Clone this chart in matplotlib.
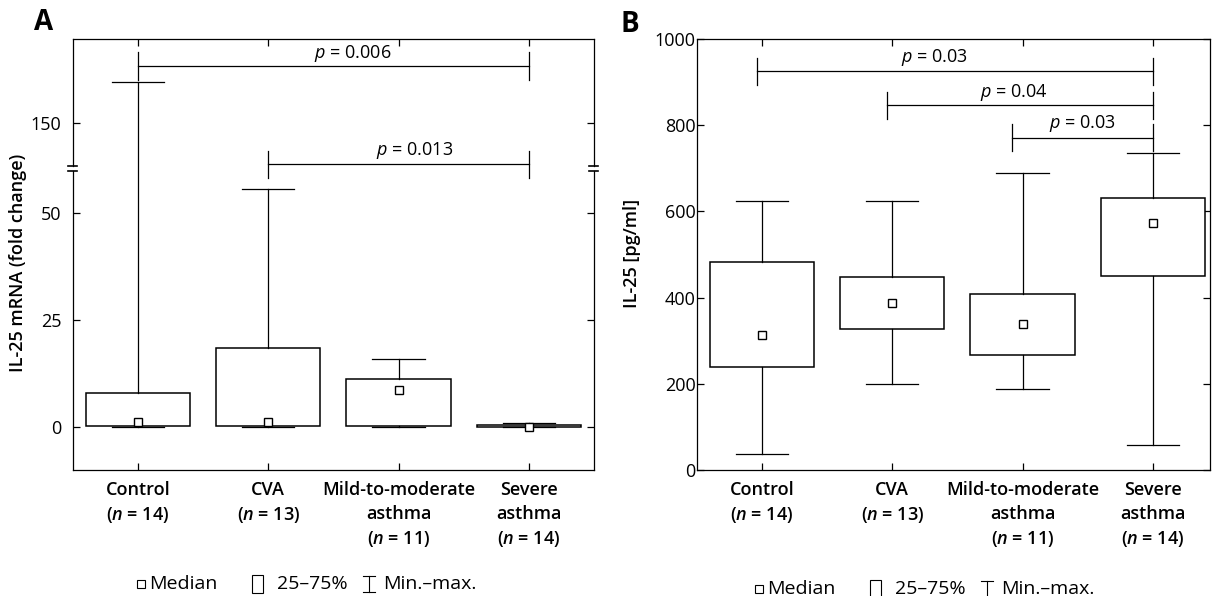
import numpy as np
import matplotlib
matplotlib.use('Agg')
import matplotlib.pyplot as plt
from matplotlib.patches import Rectangle
from matplotlib.lines import Line2D

FONT = 'Open Sans'
plt.rcParams['font.family'] = [FONT, 'DejaVu Sans']
plt.rcParams['mathtext.fontset'] = 'custom'
plt.rcParams['mathtext.rm'] = FONT
plt.rcParams['mathtext.it'] = FONT + ':italic'
plt.rcParams['mathtext.bf'] = FONT + ':semibold'
plt.rcParams['mathtext.bfit'] = FONT + ':italic:semibold'

# ---- data ----
positions = [1, 2, 3, 4]
xlabels = ['Control\n($\\mathbfit{n}$ = 14)',
           'CVA\n($\\mathbfit{n}$ = 13)',
           'Mild-to-moderate\nasthma\n($\\mathbfit{n}$ = 11)',
           'Severe\nasthma\n($\\mathbfit{n}$ = 14)']

# panel A: IL-25 mRNA (fold change)
a_min = [0, 0, 0, 0]
a_q1 = [0.2, 0.2, 0.2, 0.1]
a_med = [1.2, 1.2, 8.7, 0.0]
a_q3 = [8.0, 18.5, 11.3, 0.6]
a_max = [159.5, 55.7, 15.9, 0.9]
a_yticks = [0, 25, 50, 150]
# (x1, x2, y, end low, end high, text, text x, text y)
a_brackets = [(1, 4, 163.4, 160.1, 166.5, '$p$ = 0.006', 2.65, 166.3),
              (2, 4, 140.3, 58.3, 143.4, '$p$ = 0.013', 3.12, 143.6)]

# panel B: IL-25 [pg/ml]
b_min = [37, 200, 187, 58]
b_q1 = [239, 327, 267, 451]
b_med = [314, 387, 339, 573]
b_q3 = [482, 447, 408, 632]
b_max = [623, 623, 690, 735]
b_yticks = [0, 200, 400, 600, 800, 1000]
b_brackets = [(0.96, 4, 925, 894, 956, '$p$ = 0.03', 2.32, 956),
              (1.96, 4, 846, 815, 877, '$p$ = 0.04', 2.93, 877),
              (2.92, 4, 771, 740, 802, '$p$ = 0.03', 3.46, 805)]

W, H = 1217, 596
LW = 0.9
FS = 13

# broken y scale for panel A: -10..60 and 140..170
LO_TOP, HI_BOT, GAP = 60.0, 140.0, 1.2
SHIFT = HI_BOT - LO_TOP - GAP


def fwd(y):
    y = np.asarray(y, float)
    return np.where(y <= LO_TOP, y,
                    np.where(y >= HI_BOT, y - SHIFT,
                             LO_TOP + (y - LO_TOP) * GAP / (HI_BOT - LO_TOP)))


def inv(u):
    u = np.asarray(u, float)
    return np.where(u <= LO_TOP, u,
                    np.where(u >= LO_TOP + GAP, u + SHIFT,
                             LO_TOP + (u - LO_TOP) * (HI_BOT - LO_TOP) / GAP))


def draw_boxes(ax, mins, q1s, meds, q3s, maxs):
    stats = []
    for lo, q1, m, q3, hi in zip(mins, q1s, meds, q3s, maxs):
        stats.append(dict(whislo=lo, q1=q1, med=m, q3=q3, whishi=hi, mean=m, fliers=[]))
    ax.bxp(stats, positions=positions, widths=0.8, capwidths=0.4,
           showmeans=True, patch_artist=True, showfliers=False,
           boxprops=dict(facecolor='white', edgecolor='black', linewidth=LW + 0.2),
           whiskerprops=dict(color='black', linewidth=LW),
           capprops=dict(color='black', linewidth=LW),
           medianprops=dict(linestyle='none'),
           meanprops=dict(marker='s', markerfacecolor='white', markeredgecolor='black',
                          markersize=6, markeredgewidth=1.0))


def draw_brackets(ax, brackets):
    for x1, x2, y, lo, hi, txt, tx, ty in brackets:
        ax.plot([x1, x2], [y, y], color='black', lw=LW, clip_on=False)
        ax.plot([x1, x1], [lo, hi], color='black', lw=LW, clip_on=False)
        ax.plot([x2, x2], [lo, hi], color='black', lw=LW, clip_on=False)
        ax.text(tx, ty, txt, ha='center', va='center', fontsize=FS)


def style_axis(ax, yticks, pad):
    ax.set_xticks(positions)
    ax.set_xticklabels(xlabels, fontweight='semibold', fontsize=FS, linespacing=1.42)
    ax.set_yticks(yticks)
    ax.tick_params(axis='both', direction='in', top=True, right=True,
                   length=5, width=LW, labelsize=FS)
    ax.tick_params(axis='x', pad=8)
    ax.tick_params(axis='y', pad=pad)
    for s in ax.spines.values():
        s.set_linewidth(LW)


def draw_legend(fig, x0, yc):
    # x0, yc in pixels from top-left
    def fx(px):
        return px / W

    def fy(py):
        return 1 - py / H
    lfs = 14
    fig.add_artist(Rectangle((fx(x0), fy(yc + 4)), 8 / W, 8 / H, transform=fig.transFigure,
                             fill=False, ec='black', lw=0.8))
    fig.text(fx(x0 + 12), fy(yc), 'Median', fontsize=lfs, va='center', ha='left')
    fig.add_artist(Rectangle((fx(x0 + 115), fy(yc + 9)), 11 / W, 18 / H, transform=fig.transFigure,
                             fill=False, ec='black', lw=0.8))
    fig.text(fx(x0 + 140), fy(yc), '25–75%', fontsize=lfs, va='center', ha='left')
    bx, bt, bb = x0 + 226, yc - 8, yc + 8
    fig.add_artist(Line2D([fx(bx), fx(bx + 12)], [fy(bt), fy(bt)], transform=fig.transFigure, color='black', lw=0.8))
    fig.add_artist(Line2D([fx(bx + 6), fx(bx + 6)], [fy(bt), fy(bb)], transform=fig.transFigure, color='black', lw=0.8))
    fig.add_artist(Line2D([fx(bx), fx(bx + 12)], [fy(bb), fy(bb)], transform=fig.transFigure, color='black', lw=0.8))
    fig.text(fx(x0 + 246), fy(yc), 'Min.–max.', fontsize=lfs, va='center', ha='left')


fig = plt.figure(figsize=(W / 100, H / 100), dpi=100)

# ---------- panel A ----------
axA = fig.add_axes([72.7 / W, 1 - 470 / H, 521.3 / W, 431 / H])
axA.set_yscale('function', functions=(fwd, inv))
draw_boxes(axA, a_min, a_q1, a_med, a_q3, a_max)
draw_brackets(axA, a_brackets)
axA.set_xlim(0.5, 4.5)
axA.set_ylim(-10, 169.6)
style_axis(axA, a_yticks, 8)
axA.spines['left'].set_visible(False)
axA.spines['right'].set_visible(False)
tr = axA.get_yaxis_transform()
ymin, ymax = axA.get_ylim()
hw = 4.5 / 521.3
for xs in (0, 1):
    axA.plot([xs, xs], [ymin, LO_TOP], transform=tr, color='black', lw=LW, clip_on=False)
    axA.plot([xs, xs], [HI_BOT, ymax], transform=tr, color='black', lw=LW, clip_on=False)
    for yb in (LO_TOP, HI_BOT):
        axA.plot([xs - hw, xs + hw], [yb, yb], transform=tr, color='black', lw=LW + 0.3, clip_on=False)
axA.set_ylabel('IL-25 mRNA (fold change)', fontweight='semibold', fontsize=FS)
axA.yaxis.set_label_coords(-0.088, 0.48)

# ---------- panel B ----------
axB = fig.add_axes([697 / W, 1 - 470 / H, 513 / W, 431 / H])
draw_boxes(axB, b_min, b_q1, b_med, b_q3, b_max)
draw_brackets(axB, b_brackets)
axB.set_xlim(0.5, 4.44)
axB.set_ylim(0, 1000)
style_axis(axB, b_yticks, 1)
axB.set_ylabel('IL-25 [pg/ml]', fontweight='semibold', fontsize=FS)
axB.yaxis.set_label_coords(-0.109, 0.503)

fig.text(44 / W, 1 - 23 / H, 'A', fontsize=20, fontweight='bold', ha='center', va='center')
fig.text(630 / W, 1 - 24 / H, 'B', fontsize=20, fontweight='bold', ha='center', va='center')

draw_legend(fig, 137, 584)
draw_legend(fig, 755, 589)

fig.savefig('out.png', dpi=100)
